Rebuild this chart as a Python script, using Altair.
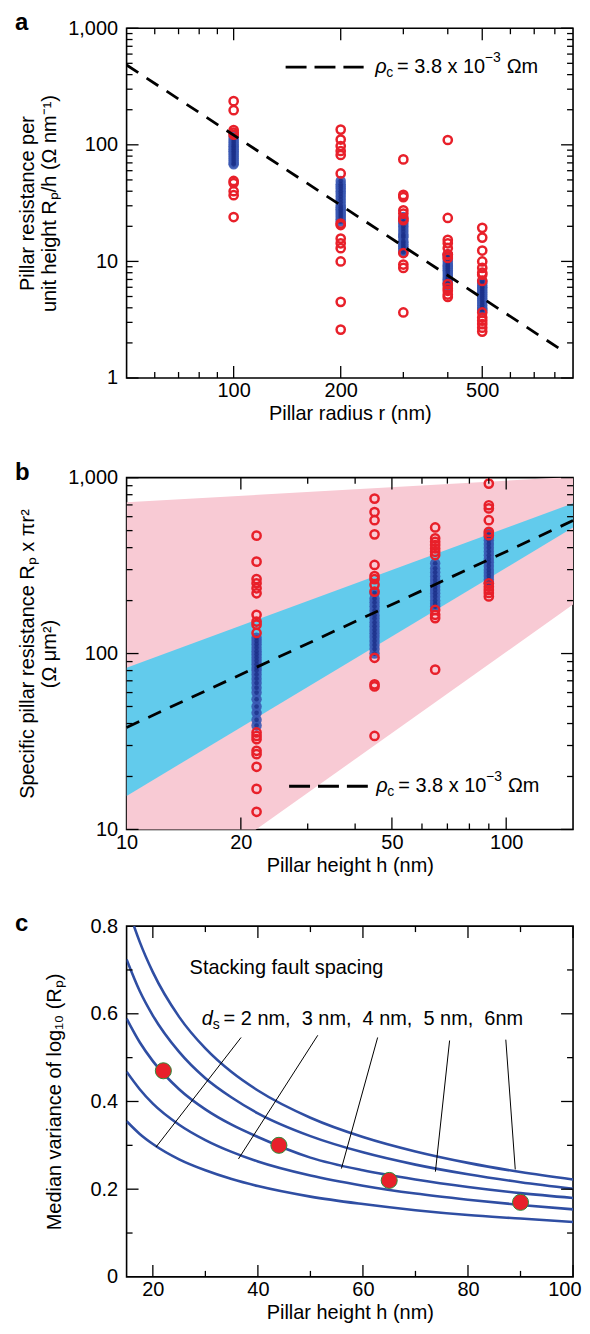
import altair as alt
import pandas as pd

FONT = "Liberation Sans"
FS = 20
RED = "#e8202a"
BLUE = "#3a58b2"
NAVY = "#1c2f88"
CURVE = "#2f4ea3"
PINK = "#f8cad4"
CYAN = "#62cbec"

# ---------------- Panel a data ----------------
a_red_100 = [237, 198, 134, 127, 122, 49, 47, 40, 37, 24]
a_red_200 = [135, 111, 97.5, 88.5, 81.8, 56.8, 21.1, 20.5, 15.7, 14.3, 13.0, 10, 4.5, 2.6]
a_red_300 = [75, 37.2, 35.6, 27.4, 25.7, 23.3, 22.6, 11.8, 9.4, 8.8, 3.65]
a_red_400 = [110, 23.6, 15.3, 14.3, 13.0, 11.5, 11.4, 10.7, 6.4, 5.9, 5.6, 5.2, 4.95]
a_red_500 = [19.4, 16.0, 12.4, 10, 8.8, 8.0, 7.7, 6.8, 3.65, 3.3, 3.1, 2.9, 2.7, 2.5]
a_blue_100 = [118, 112, 108, 104, 100, 97, 94, 91, 88, 85, 82, 79, 76, 73, 70, 68]
a_blue_200 = [49, 46, 44, 42, 40, 38, 36, 34, 32, 30, 29, 28, 27, 26, 25, 24, 23, 22]
a_blue_300 = [24, 22, 21, 20, 19, 18, 17, 16.5, 16, 15, 14.5, 14, 13.5, 13, 12.5, 12]
a_blue_400 = [11.5, 11, 10.5, 10, 9.5, 9.2, 9, 8.7, 8.4, 8.1, 7.8, 7.5, 7.2, 7, 6.8, 6.5, 6.2]
a_blue_500 = [6.8, 6.5, 6.2, 6, 5.8, 5.6, 5.4, 5.2, 5, 4.8, 4.6, 4.4, 4.2, 4.0, 3.9, 3.8]
a_line_r = [50, 840]
a_line_v = [484, 1.72]

# ---------------- Panel b data ----------------
b_red_22 = [468, 333, 265, 251, 235, 220, 166, 152, 146, 131, 35.6, 34.0, 32.6, 28.0, 26.8, 22.7, 17.0, 12.6]
b_red_45 = [760, 638, 573, 476, 319, 276, 265, 246, 225, 94.6, 66.8, 65, 34]
b_red_65 = [521, 452, 432, 414, 396, 379, 363, 177, 166, 159, 81]
b_red_90 = [925, 697, 668, 573, 492, 471, 251, 240, 230, 221, 211]
b_blue_22 = [123, 118, 113, 108, 103, 99, 95, 91, 87, 83, 80, 76, 72, 68, 64, 60, 55, 50, 46, 42, 39]
b_blue_45 = [221, 205, 195, 185, 175, 165, 158, 150, 143, 136, 130, 124, 118, 112, 106, 100]
b_blue_65 = [326, 305, 290, 275, 262, 250, 240, 230, 220, 210, 200, 192, 185]
b_blue_90 = [484, 460, 440, 420, 400, 380, 362, 345, 330, 315, 300, 288, 276, 264, 251]
b_band_h = [10, 150]
b_pink_lo = [3.0, 190]
b_pink_hi = [725, 1010]
b_cyan_lo = [15.5, 520]
b_cyan_hi = [83, 715]
b_line_h = [10, 150]
b_line_v = [38, 570]

# ---------------- Panel c data ----------------
c_h = [15, 17.5, 20, 25, 30, 35, 40, 50, 60, 70, 80, 90, 100]
c_ds2 = [0.355, 0.326, 0.303, 0.268, 0.243, 0.223, 0.207, 0.183, 0.166, 0.152, 0.141, 0.133, 0.125]
c_ds3 = [0.468, 0.428, 0.395, 0.347, 0.312, 0.285, 0.263, 0.231, 0.208, 0.190, 0.176, 0.164, 0.154]
c_ds4 = [0.589, 0.535, 0.492, 0.428, 0.382, 0.347, 0.319, 0.272, 0.243, 0.222, 0.205, 0.191, 0.180]
c_ds5 = [0.724, 0.652, 0.596, 0.513, 0.453, 0.409, 0.373, 0.321, 0.284, 0.256, 0.234, 0.216, 0.201]
c_h6 = [16.4, 17.5, 20, 25, 30, 35, 40, 50, 60, 70, 80, 90, 100]
c_ds6 = [0.80, 0.764, 0.695, 0.593, 0.521, 0.467, 0.425, 0.363, 0.319, 0.286, 0.260, 0.239, 0.222]
c_dot_h = [22, 44, 65, 90]
c_dot_v = [0.47, 0.30, 0.22, 0.17]
c_lead_x1 = [36.8, 51.4, 62.8, 76.5, 87.2]
c_lead_y1 = [0.546, 0.551, 0.546, 0.539, 0.541]
c_lead_x2 = [20.6, 36.3, 55.9, 73.8, 89.0]
c_lead_y2 = [0.296, 0.269, 0.247, 0.240, 0.245]

W = 448
MAJ = 12
MIN = 6


def col_df(groups):
    rows = []
    for x, vals in groups:
        for v in vals:
            rows.append({"x": x, "v": v})
    return pd.DataFrame(rows)


def tick_layers(X, Y, xmaj, xmin, ymaj, ymin, H):
    layers = []
    for vals, L in ((xmaj, MAJ), (xmin, MIN)):
        df = pd.DataFrame({"x": vals})
        base = alt.Chart(df).mark_rule(color="black", strokeWidth=1.3)
        layers.append(base.encode(x=X("x"), y=alt.value(H), y2=alt.value(H - L)))
        layers.append(base.encode(x=X("x"), y=alt.value(0), y2=alt.value(L)))
    for vals, L in ((ymaj, MAJ), (ymin, MIN)):
        df = pd.DataFrame({"v": vals})
        base = alt.Chart(df).mark_rule(color="black", strokeWidth=1.3)
        layers.append(base.encode(y=Y("v"), x=alt.value(0), x2=alt.value(L)))
        layers.append(base.encode(y=Y("v"), x=alt.value(W), x2=alt.value(W - L)))
    return layers


def blue_layers(df, X, Y):
    return [
        alt.Chart(df).mark_circle(size=110, color=BLUE, opacity=0.9).encode(x=X("x"), y=Y("v")),
        alt.Chart(df).mark_circle(size=22, color=NAVY, opacity=0.8).encode(x=X("x"), y=Y("v")),
    ]


def red_layer(df, X, Y):
    return alt.Chart(df).mark_point(shape="circle", size=68, color=RED, strokeWidth=2.5,
                                    filled=False, opacity=1).encode(x=X("x"), y=Y("v"))


def rho_legend(xv, yv, X, Y):
    df = pd.DataFrame({"x": [xv], "v": [yv]})
    segs = [
        ("ρ", 0, 0, FS, "italic"),
        ("c", 11, 6, 14, "normal"),
        ("= 3.8 x 10", 22, 0, FS, "normal"),
        ("−3", 110, -9, 14, "normal"),
        ("Ωm", 132, 0, FS, "normal"),
    ]
    out = []
    for txt, dx, dy, fs, st in segs:
        out.append(
            alt.Chart(df)
            .mark_text(text=txt, align="left", baseline="middle", dx=dx, dy=dy,
                       fontSize=fs, fontStyle=st, color="black", font=FONT)
            .encode(x=X("x"), y=Y("v"))
        )
    return out


def letter(t, off):
    return alt.TitleParams(text=t, anchor="start", frame="group", dx=-112, offset=off,
                           fontSize=24, fontWeight="bold", font=FONT, color="black")


def xaxis(values, title, fmt="d", flush=False):
    kw = dict(values=values, format=fmt, ticks=False, tickSize=0, domain=False, grid=False,
              labelFlush=flush, labelOverlap=False, labelPadding=3, title=title,
              titlePadding=3)
    if flush:
        kw["labelFlushOffset"] = 8
    return alt.Axis(**kw)


def yaxis(values, title, fmt=",", tpad=8, expr=None):
    kw = dict(values=values, format=fmt, ticks=False, tickSize=0, domain=False, grid=False,
              labelFlush=False, labelOverlap=False, labelPadding=9, title=title,
              titlePadding=tpad, titleLineHeight=22)
    if expr:
        kw["labelExpr"] = expr
    return alt.Axis(**kw)


def make_enc(scale, axis, chan):
    def f(field):
        return chan(field + ":Q", scale=scale, axis=axis)
    return f


# ================= Panel a =================
Ha = 351
xa = alt.Scale(type="log", domain=[50, 900], nice=False)
ya = alt.Scale(type="log", domain=[1, 1000], nice=False)
XA = make_enc(xa, xaxis([100, 200, 500], "Pillar radius r (nm)"), alt.X)
YA = make_enc(ya, yaxis([1, 10, 100, 1000], ["Pillar resistance per", "unit height Rₚ/h (Ω nm⁻¹)"]), alt.Y)
a_red = col_df([(100, a_red_100), (200, a_red_200), (300, a_red_300), (400, a_red_400), (500, a_red_500)])
a_blue = col_df([(100, a_blue_100), (200, a_blue_200), (300, a_blue_300), (400, a_blue_400), (500, a_blue_500)])

a_line = alt.Chart(pd.DataFrame({"x": a_line_r, "v": a_line_v})).mark_line(
    color="black", strokeWidth=2.8, strokeDash=[14, 10]).encode(x=XA("x"), y=YA("v"))
a_leg = alt.Chart(pd.DataFrame({"x": [140], "x2": [232], "v": [464]})).mark_rule(
    color="black", strokeWidth=2.8, strokeDash=[21, 8]).encode(x=XA("x"), x2="x2:Q", y=YA("v"))
a_ticks = tick_layers(XA, YA, [100, 200, 500], [60, 70, 80, 90, 300, 400, 600, 700, 800],
                      [1, 10, 100, 1000], [m * d for d in (1, 10, 100) for m in range(2, 10)], Ha)

panel_a = alt.layer(*blue_layers(a_blue, XA, YA), red_layer(a_red, XA, YA), a_line, a_leg,
                    *rho_legend(250, 464, XA, YA), *a_ticks).properties(
    width=W, height=Ha, title=letter("a", -17))

# ================= Panel b =================
Hb = 353
xb = alt.Scale(type="log", domain=[10, 150], nice=False)
yb = alt.Scale(type="log", domain=[10, 1000], nice=False)
XB = make_enc(xb, xaxis([10, 20, 50, 100], "Pillar height h (nm)"), alt.X)
YB = make_enc(yb, yaxis([10, 100, 1000], ["Specific pillar resistance Rₚ x πr²", "(Ω μm²)"]), alt.Y)
band = pd.DataFrame({"x": b_band_h, "plo": b_pink_lo, "phi": b_pink_hi, "clo": b_cyan_lo, "chi": b_cyan_hi})
b_pink = alt.Chart(band).mark_area(color=PINK, opacity=1, clip=True).encode(
    x=XB("x"), y=YB("plo"), y2="phi:Q")
b_cyan = alt.Chart(band).mark_area(color=CYAN, opacity=1, clip=True).encode(
    x=XB("x"), y=YB("clo"), y2="chi:Q")
b_red = col_df([(22, b_red_22), (45, b_red_45), (65, b_red_65), (90, b_red_90)])
b_blue = col_df([(22, b_blue_22), (45, b_blue_45), (65, b_blue_65), (90, b_blue_90)])
b_line = alt.Chart(pd.DataFrame({"x": b_line_h, "v": b_line_v})).mark_line(
    color="black", strokeWidth=2.8, strokeDash=[14, 10]).encode(x=XB("x"), y=YB("v"))
b_leg = alt.Chart(pd.DataFrame({"x": [26.8], "x2": [43.2], "v": [17.6]})).mark_rule(
    color="black", strokeWidth=2.8, strokeDash=[21, 8]).encode(x=XB("x"), x2="x2:Q", y=YB("v"))
b_ticks = tick_layers(XB, YB, [20, 50, 100], [30, 40, 60, 70, 80, 90],
                      [10, 100, 1000], [m * d for d in (10, 100) for m in range(2, 10)], Hb)

panel_b = alt.layer(b_pink, b_cyan, *blue_layers(b_blue, XB, YB), red_layer(b_red, XB, YB), b_line, b_leg,
                    *rho_legend(45.5, 17.6, XB, YB), *b_ticks).properties(
    width=W, height=Hb, title=letter("b", -17))

# ================= Panel c =================
Hc = 352
xc = alt.Scale(domain=[15, 100], nice=False, zero=False)
yc = alt.Scale(domain=[0, 0.8], nice=False)
XC = make_enc(xc, xaxis([20, 40, 60, 80, 100], "Pillar height h (nm)", flush=True), alt.X)
YC = make_enc(yc, yaxis([0, 0.2, 0.4, 0.6, 0.8], "Median variance of log₁₀ (Rₚ)", fmt=".1f", tpad=26,
                        expr="datum.value == 0 ? '0' : format(datum.value, '.1f')"), alt.Y)
curves = pd.concat([
    pd.DataFrame({"x": c_h, "v": c_ds2, "ds": "2"}),
    pd.DataFrame({"x": c_h, "v": c_ds3, "ds": "3"}),
    pd.DataFrame({"x": c_h, "v": c_ds4, "ds": "4"}),
    pd.DataFrame({"x": c_h, "v": c_ds5, "ds": "5"}),
    pd.DataFrame({"x": c_h6, "v": c_ds6, "ds": "6"}),
])
c_lines = alt.Chart(curves).mark_line(color=CURVE, strokeWidth=2.6, interpolate="monotone", clip=True).encode(
    x=XC("x"), y=YC("v"), detail="ds:N")
leads = pd.DataFrame({"x": c_lead_x1, "v": c_lead_y1, "x2": c_lead_x2, "v2": c_lead_y2})
c_leads = alt.Chart(leads).mark_rule(color="black", strokeWidth=1).encode(
    x=XC("x"), y=YC("v"), x2="x2:Q", y2="v2:Q")
c_dots = alt.Chart(pd.DataFrame({"x": c_dot_h, "v": c_dot_v})).mark_circle(
    size=260, color=RED, opacity=1, stroke="#2e8b3a", strokeWidth=1).encode(x=XC("x"), y=YC("v"))
tdf1 = pd.DataFrame({"x": [27.0], "v": [0.704]})
c_t1 = alt.Chart(tdf1).mark_text(text="Stacking fault spacing", align="left", baseline="middle",
                                 fontSize=FS, font=FONT, color="black").encode(x=XC("x"), y=YC("v"))
tdf2 = pd.DataFrame({"x": [29.3], "v": [0.588]})
c_t2 = []
for txt, dx, dy, fs, st in [("d", 0, 0, FS, "italic"), ("s", 11, 6, 14, "normal"),
                            ("= 2 nm,\u00a0 3 nm,\u00a0 4 nm,\u00a0 5 nm,\u00a0 6nm", 22, 0, FS, "normal")]:
    c_t2.append(alt.Chart(tdf2).mark_text(text=txt, align="left", baseline="middle", dx=dx, dy=dy,
                                          fontSize=fs, fontStyle=st, font=FONT, color="black").encode(
        x=XC("x"), y=YC("v")))
c_ticks = tick_layers(XC, YC, [20, 40, 60, 80, 100], [30, 50, 70, 90],
                      [0.2, 0.4, 0.6], [0.1, 0.3, 0.5, 0.7], Hc)

panel_c = alt.layer(c_lines, c_leads, c_dots, c_t1, *c_t2, *c_ticks).properties(
    width=W, height=Hc, title=letter("c", -20))

chart = alt.vconcat(panel_a, panel_b, panel_c, spacing=35).properties(
    padding={"left": 6, "top": 0, "right": 0, "bottom": 0}
).configure(font=FONT).configure_axis(
    labelFont=FONT, titleFont=FONT, labelFontSize=FS, titleFontSize=FS,
    labelColor="black", titleColor="black", titleFontWeight="normal"
).configure_view(stroke="black", strokeWidth=1.6)

chart.save("out.html", embed_options={"renderer": "svg", "actions": False})
